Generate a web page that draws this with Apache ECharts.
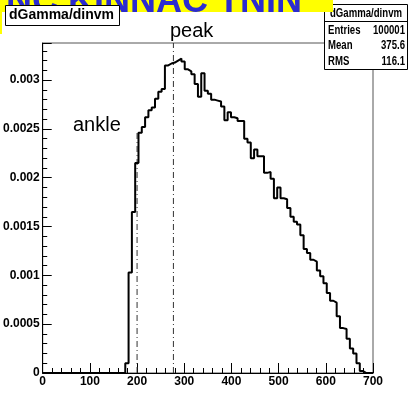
<!DOCTYPE html>
<html>
<head>
<meta charset="utf-8">
<script src="https://cdn.jsdelivr.net/npm/echarts@6/dist/echarts.min.js"></script>
<style>
  html, body { margin: 0; padding: 0; background: #fff; }
  #myChart { width: 413px; height: 393px; }
</style>
</head>
<body>
<div id="myChart"></div>
<script>
// histogram dGamma/dinvm, 100 bins of width 7 from 0 to 700
const histTitle = 'dGamma/dinvm'
const xMin = 0
const xMax = 700
const binWidth = 7
const yMax = 0.00338
const binValues = [
  0, 0, 0, 0, 0, 0, 0, 0, 0, 0,
  0, 0, 0, 0, 0, 0, 0, 0, 0, 0,
  0, 0, 0, 0, 0, 0.00010, 0.00103, 0.00165, 0.00215, 0.00246,
  0.00252, 0.00262, 0.00269, 0.00272, 0.00281, 0.00288, 0.00291, 0.00315, 0.00317, 0.00318,
  0.00320, 0.00322, 0.00319, 0.00311, 0.00309, 0.00306, 0.00296, 0.00283, 0.00307, 0.00289,
  0.00286, 0.00280, 0.00279, 0.00278, 0.00273, 0.00259, 0.00267, 0.00262, 0.00261, 0.00258,
  0.00258, 0.00240, 0.00236, 0.00220, 0.00229, 0.00222, 0.00222, 0.00205, 0.00206, 0.00199,
  0.00179, 0.00190, 0.00179, 0.00178, 0.00169, 0.00160, 0.00155, 0.00152, 0.00141, 0.00127,
  0.00123, 0.00116, 0.00114, 0.00105, 0.00099, 0.00092, 0.00082, 0.00074, 0.00072, 0.00058,
  0.00046, 0.00045, 0.00035, 0.00025, 0.00020, 0.00010, 0.00002, 0, 0, 0
]
const xInterval = 100
const yInterval = 0.0005
const statNames = ['Entries', 'Mean', 'RMS']
const statValues = ['100001', '375.6', '116.1']
const ankleX = 200
const ankleTop = 0.00246
const peakX = 277

const histData = binValues.map((v, i) => [xMin + i * binWidth, v])
histData.push([xMax, binValues[binValues.length - 1]])

const labelFont = { fontFamily: 'Liberation Sans', fontWeight: 'bold', fontSize: 12, color: '#000' }
const statFont = "bold 12px 'Liberation Sans'"
const dashDot = [6, 3, 1, 3]

function statText(text, x, y, align) {
  return { type: 'text', x: x, y: y, scaleX: 0.8, style: { text: text, font: statFont, fill: '#000', align: align, verticalAlign: 'middle' } }
}
const statTexts = [statText(histTitle, 366, 13.5, 'center')]
statNames.forEach((name, i) => {
  const y = [30.5, 46, 61.5][i]
  statTexts.push(statText(name, 328, y, 'left'))
  statTexts.push(statText(statValues[i], 405, y, 'right'))
})

const myChart = echarts.init(document.getElementById('myChart'))
myChart.setOption({
  animation: false,
  backgroundColor: '#fff',
  grid: { left: 42, right: 40, top: 43, bottom: 20, show: true, borderColor: '#555', borderWidth: 1 },
  xAxis: {
    type: 'value', min: xMin, max: xMax, interval: xInterval,
    axisLine: { show: true, lineStyle: { color: '#000', width: 1 } },
    axisTick: { show: true, inside: true, length: 10, lineStyle: { color: '#000', width: 1 } },
    minorTick: { show: true, splitNumber: 5, length: 5, lineStyle: { color: '#000', width: 1 } },
    axisLabel: Object.assign({ margin: 3 }, labelFont),
    splitLine: { show: false }
  },
  yAxis: {
    type: 'value', min: 0, max: yMax, interval: yInterval,
    axisLine: { show: true, lineStyle: { color: '#000', width: 1 } },
    axisTick: { show: true, inside: true, length: 9, lineStyle: { color: '#000', width: 1 } },
    minorTick: { show: true, splitNumber: 5, length: 4.5, lineStyle: { color: '#000', width: 1 } },
    axisLabel: Object.assign({
      margin: 3, showMaxLabel: false,
      formatter: v => v === 0 ? '0' : String(+v.toFixed(4))
    }, labelFont),
    splitLine: { show: false }
  },
  series: [
    {
      type: 'line', z: 2, symbol: 'none', silent: true,
      data: [[ankleX, 0], [ankleX, ankleTop]],
      lineStyle: { color: '#333', width: 1, type: dashDot }
    },
    {
      type: 'line', z: 2, symbol: 'none', silent: true,
      data: [[peakX, 0], [peakX, yMax]],
      lineStyle: { color: '#333', width: 1, type: dashDot }
    },
    {
      name: histTitle, type: 'line', z: 3, step: 'end', symbol: 'none',
      data: histData,
      lineStyle: { color: '#000', width: 2 }
    }
  ],
  graphic: [
    { type: 'rect', z: 1, shape: { x: 0, y: 0, width: 333, height: 12 }, style: { fill: '#ffff00' } },
    { type: 'rect', z: 1, shape: { x: 0, y: 0, width: 2, height: 34 }, style: { fill: '#ffff00' } },
    { type: 'text', z: 2, x: 6, y: 20, style: { text: 'NC KINNAC TNIN', font: "bold 36px 'Liberation Sans'", fill: '#2b2bd0', verticalAlign: 'bottom' } },
    { type: 'rect', z: 10, shape: { x: 5.5, y: 5.5, width: 114, height: 20 }, style: { fill: '#fff', stroke: '#000', lineWidth: 1 } },
    { type: 'text', z: 11, x: 9, y: 15.5, style: { text: histTitle, font: "bold 14px 'Liberation Sans'", fill: '#000', verticalAlign: 'middle' } },
    { type: 'text', z: 11, x: 170, y: 31, style: { text: 'peak', font: "20px 'Liberation Sans'", fill: '#000', verticalAlign: 'middle' } },
    { type: 'text', z: 11, x: 73, y: 125, style: { text: 'ankle', font: "20px 'Liberation Sans'", fill: '#000', verticalAlign: 'middle' } },
    {
      type: 'group', z: 10,
      children: [
        { type: 'rect', shape: { x: 324.5, y: 4.5, width: 83, height: 65 }, style: { fill: '#fff', stroke: '#000', lineWidth: 1 } },
        { type: 'line', shape: { x1: 324.5, y1: 21.5, x2: 407.5, y2: 21.5 }, style: { stroke: '#000', lineWidth: 1 } }
      ].concat(statTexts)
    }
  ]
})
</script>
</body>
</html>
